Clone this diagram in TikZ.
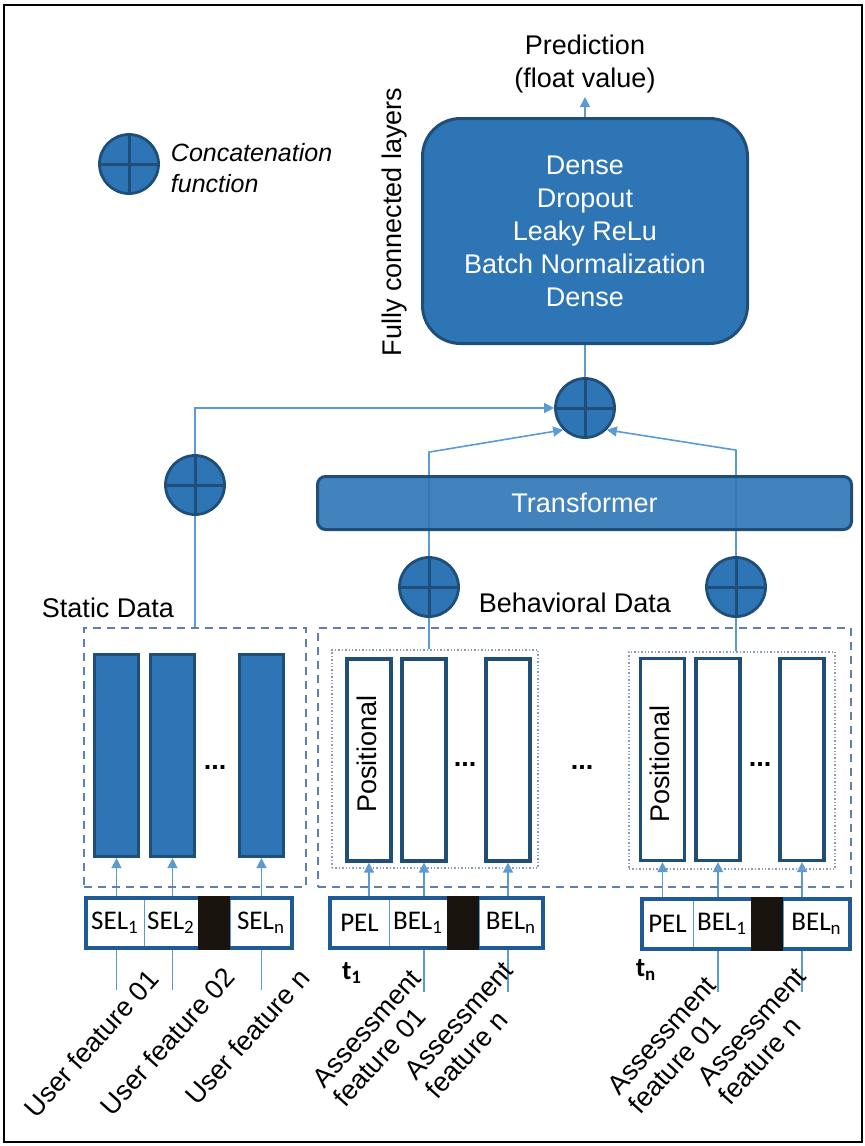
\documentclass[tikz,border=0pt]{standalone}
\usepackage{fontspec}
\setmainfont{Liberation Sans}
\newfontfamily\cellfont{Carlito}
\usetikzlibrary{arrows.meta, positioning, fit, calc, backgrounds}

\definecolor{cblue}{HTML}{2E75B6}
\definecolor{navy}{HTML}{1F4E79}
\definecolor{fblue}{HTML}{1D5A96}
\definecolor{lblue}{HTML}{5B9BD5}
\definecolor{dashgray}{HTML}{5F7FB0}
\definecolor{dotgray}{HTML}{8C9CB4}
\definecolor{inkblack}{HTML}{1A140F}

\begin{document}
\begin{tikzpicture}[
        x=0.5pt, y=-0.5pt,
        font=\fontsize{13.5}{16.5}\selectfont,
        concat/.style={circle, draw=navy, line width=1.4pt, fill=cblue, minimum size=29.5pt, inner sep=0pt,
            path picture={\draw[navy, line width=1.5pt] (path picture bounding box.north) -- (path picture bounding box.south)
                (path picture bounding box.west) -- (path picture bounding box.east);}},
        fcbox/.style={draw=navy, line width=1.5pt, fill=cblue, text=white, rounded corners=19pt, align=center,
            minimum width=162.5pt, minimum height=112.5pt},
        tfbox/.style={draw=navy, line width=1.5pt, fill=cblue, fill opacity=0.9, text opacity=1, text=white,
            rounded corners=4pt, minimum width=267pt, minimum height=26.5pt},
        sbar/.style={draw=navy, line width=1.6pt, fill=cblue, minimum width=22pt, minimum height=101pt, inner sep=0pt},
        bbar/.style={sbar, fill=white},
        dbox/.style={draw=dashgray, line width=1pt, dash pattern=on 4pt off 3pt, inner sep=0pt},
        grpbox/.style={draw=dotgray, line width=0.7pt, densely dotted, inner sep=0pt},
        cell/.style={draw=lblue, line width=0.5pt, fill=white, minimum height=25pt, inner sep=0pt, outer sep=0pt,
            font=\cellfont\fontsize{13.5}{16}\selectfont},
        blk/.style={cell, draw=inkblack, fill=inkblack, minimum width=16pt},
        inframe/.style={draw=fblue, line width=1.6pt, inner sep=0pt},
        feat/.style={rotate=48, inner sep=0pt, align=left, font=\fontsize{13.5}{14.5}\selectfont},
        tlbl/.style={font=\cellfont\bfseries\fontsize{13.5}{16}\selectfont, inner sep=0pt},
        flow/.style={draw=lblue, line width=0.8pt},
        into/.style={flow, -{Triangle[length=5pt, width=5pt]}}
    ]
        \useasboundingbox (0,0) rectangle (865,1146);
        \draw[black, line width=1pt] (4,5) rectangle (862,1142);

        % legend
        \node[concat] (key) at (129,164) {};
        \node[right=2pt of key, yshift=-2pt, align=left, font=\itshape\fontsize{12.5}{15.5}\selectfont] (keytxt) {Concatenation\\function};

        % fully connected head
        \node[fcbox] (fc) at (585,231) {Dense\\Dropout\\Leaky ReLu\\Batch Normalization\\Dense};
        \node[above=10pt of fc, align=center, inner sep=2pt] (pred) {Prediction\\(float value)};
        \node[rotate=90] (fclbl) at (395,222) {Fully connected layers};
        \node[concat] (cat0) at (585,408) {};

        \node[tfbox] (tf) at (584.5,503) {Transformer};
        \node[concat] (catS) at (195,485) {};
        \node[concat] (catB1) at (429,587) {};
        \node[concat] (catB2) at (736,587) {};

        % static data
        \node (stxt) at (108,608) {Static Data};
        \node[dbox, minimum width=111pt, minimum height=129.5pt] (sbox) at (195,757.5) {};
        \node[sbar] (sb1) at (116.5,755.5) {};
        \node[sbar] (sb2) at (172.5,755.5) {};
        \node[sbar] (sbn) at (261.5,755.5) {};
        \node (sdots) at (215,767) {\textbf{...}};

        % behavioral data
        \node (btxt) at (575,603) {Behavioral Data};
        \node[dbox, minimum width=266.5pt, minimum height=129.5pt] (bbox) at (584.5,757.5) {};
        \node[grpbox, minimum width=103pt, minimum height=109pt] (g1box) at (435,759) {};
        \node[bbar] (g1pos) at (369,760) {};
        \node[bbar] (g1b1) at (424,760) {};
        \node[bbar] (g1bn) at (508,760) {};
        \node[rotate=90] (g1postxt) at (367,754) {Positional};
        \node (g1dots) at (465,764) {\textbf{...}};
        \node (mdots) at (582,767) {\textbf{...}};
        \node[grpbox, minimum width=103pt, minimum height=108.5pt] (g2box) at (732,760.5) {};
        \node[bbar] (g2pos) at (662.5,759.5) {};
        \node[bbar] (g2b1) at (718,759.5) {};
        \node[bbar] (g2bn) at (802,759.5) {};
        \node[rotate=90] (g2postxt) at (660,764) {Positional};
        \node (g2dots) at (760,764) {\textbf{...}};

        % embedding rows
        \node[cell, minimum width=29pt] (sel1) at (115,923) {SEL\textsubscript{1}};
        \node[cell, minimum width=27pt, right=0pt of sel1] (sel2) {SEL\textsubscript{2}};
        \node[blk, right=0pt of sel2] (sblk) {};
        \node[cell, minimum width=31pt, right=0pt of sblk] (seln) {SEL\textsubscript{n}};
        \node[inframe, fit=(sel1)(seln)] (srow) {};

        \node[cell, minimum width=29.5pt] (pel1) at (359.5,923) {PEL};
        \node[cell, minimum width=29pt, right=0pt of pel1] (bel11) {BEL\textsubscript{1}};
        \node[blk, right=0pt of bel11] (bblk1) {};
        \node[cell, minimum width=32pt, right=0pt of bblk1] (bel1n) {BEL\textsubscript{n}};
        \node[inframe, fit=(pel1)(bel1n)] (brow1) {};

        \node[cell, minimum width=25.5pt] (pel2) at (667.5,924) {PEL};
        \node[cell, minimum width=29pt, right=0pt of pel2] (bel21) {BEL\textsubscript{1}};
        \node[blk, right=0pt of bel21] (bblk2) {};
        \node[cell, minimum width=33.5pt, right=0pt of bblk2] (bel2n) {BEL\textsubscript{n}};
        \node[inframe, fit=(pel2)(bel2n)] (brow2) {};

        \foreach \b in {sblk, bblk1, bblk2}
            \fill[inkblack] ([yshift=0.8pt]\b.north west) rectangle ([yshift=-0.8pt]\b.south east);

        \node[tlbl] (t1) at (352,973) {t\textsubscript{1}};
        \node[tlbl] (tn) at (646,970) {t\textsubscript{n}};

        % input features
        \coordinate (uf1) at (sb1.south |- 0,990);
        \coordinate (uf2) at (sb2.south |- 0,990);
        \coordinate (ufn) at (sbn.south |- 0,990);
        \coordinate (g1f1) at (g1b1.south |- 0,992);
        \coordinate (g1fn) at (g1bn.south |- 0,992);
        \coordinate (g2f1) at (g2b1.south |- 0,992);
        \coordinate (g2fn) at (g2bn.south |- 0,992);

        \node[feat, anchor=east] (uf1txt) at (154,974) {User feature 01};
        \node[feat, anchor=east] (uf2txt) at (230,972) {User feature 02};
        \node[feat, anchor=east] (ufntxt) at (305,973) {User feature n};
        \node[feat, anchor=west] (g1f1txt) at (328,1093) {Assessment\\feature 01};
        \node[feat, anchor=west] (g1fntxt) at (420,1085) {Assessment\\feature n};
        \node[feat, anchor=west] (g2f1txt) at (623,1100) {Assessment\\feature 01};
        \node[feat, anchor=west] (g2fntxt) at (713,1091) {Assessment\\feature n};

        \begin{scope}[on background layer]
            \draw[into] (fc) -- (pred);
            \draw[flow] (cat0) -- (fc);
            \draw[flow] (sbox.north -| catS) -- (catS);
            \draw[into] (catS) |- (cat0);
            \draw[flow] (g1box.north -| catB1) -- (catB1);
            \draw[flow] (g2box.north -| catB2) -- (catB2);
            \draw[into] (catB1.north) -- ++(0,-104) -- (cat0.south west);
            \draw[into] (catB2.north) -- ++(0,-106) -- (cat0.south east);

            \draw[into] (uf1) -- (sb1);
            \draw[into] (uf2) -- (sb2);
            \draw[into] (ufn) -- (sbn);
            \draw[into] (pel1.north -| g1pos) -- (g1pos);
            \draw[into] (g1f1) -- (g1b1);
            \draw[into] (g1fn) -- (g1bn);
            \draw[into] (pel2.north -| g2pos) -- (g2pos);
            \draw[into] (g2f1) -- (g2b1);
            \draw[into] (g2fn) -- (g2bn);
        \end{scope}
    \end{tikzpicture}
\end{document}
